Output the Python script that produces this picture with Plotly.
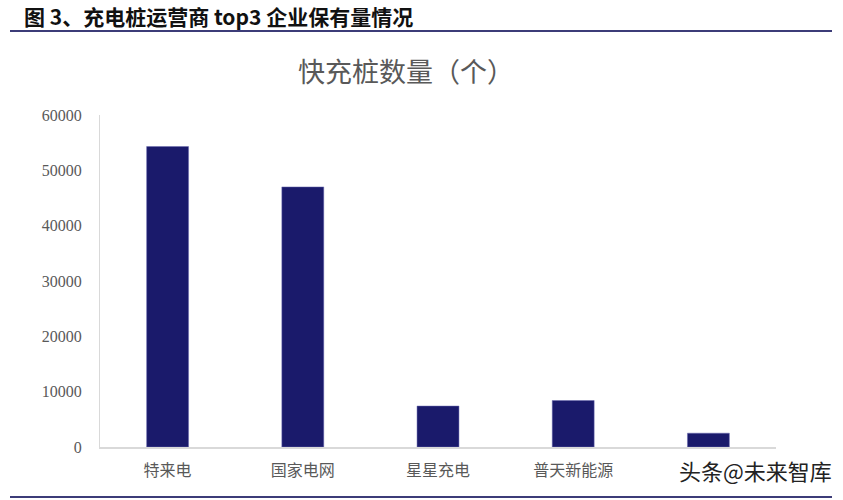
import plotly.graph_objects as go

categories = ["特来电", "国家电网", "星星充电", "普天新能源", "上汽安悦"]
values = [54300, 47000, 7400, 8400, 2500]
y_ticks = [0, 10000, 20000, 30000, 40000, 50000, 60000]
# the fifth category label is hidden under the watermark in the reference
x_tick_text = ["特来电", "国家电网", "星星充电", "普天新能源", ""]

fig = go.Figure()
fig.add_trace(go.Bar(
    x=categories, y=values,
    marker=dict(color="#1a1a6b", line=dict(color="#6a6ab0", width=0.5)),
    width=0.31,
))

cjk = "Noto Sans CJK SC"
PW, PH = 676, 332


def px(x):
    return (x - 100) / PW


def py(y):
    return (447 - y) / PH


fig.update_layout(
    width=843, height=500,
    margin=dict(l=100, r=67, t=115, b=53, autoexpand=False),
    paper_bgcolor="white", plot_bgcolor="white",
    showlegend=False,
    font=dict(family=cjk, color="#595959"),
    xaxis=dict(
        showline=True, linecolor="#d9d9d9", linewidth=1.5,
        showgrid=False, ticks="", tickfont=dict(size=16, color="#595959", family=cjk),
        range=[-0.5, 4.5], automargin=False,
        tickvals=categories, ticktext=x_tick_text,
        ticklabelstandoff=8,
    ),
    yaxis=dict(
        range=[0, 60000], tickvals=y_ticks, ticktext=[str(v) for v in y_ticks],
        showline=True, linecolor="#d9d9d9", linewidth=1,
        showgrid=False, zeroline=False, ticks="", automargin=False,
        tickfont=dict(size=16, color="#595959", family="Liberation Serif"),
        ticklabelstandoff=14,
    ),
    shapes=[
        dict(type="line", xref="paper", yref="paper",
             x0=px(10), x1=px(832), y0=py(31), y1=py(31),
             line=dict(color="#3c3c78", width=2)),
        dict(type="line", xref="paper", yref="paper",
             x0=px(10), x1=px(832), y0=py(497), y1=py(497),
             line=dict(color="#3c3c78", width=2)),
    ],
    annotations=[
        dict(text="<b>图 3、充电桩运营商 top3 企业保有量情况</b>", xref="paper", yref="paper",
             x=px(22), y=py(16), xanchor="left", yanchor="middle",
             showarrow=False, font=dict(size=21, color="#111111", family=cjk)),
        dict(text="快充桩数量（个）", xref="paper", yref="paper",
             x=px(406), y=py(71), xanchor="center", yanchor="middle",
             showarrow=False, font=dict(size=27, color="#595959", family=cjk)),
        dict(text="头条@未来智库", xref="paper", yref="paper",
             x=px(755), y=py(470), xanchor="center", yanchor="middle",
             showarrow=False,
             font=dict(size=22, color="#222222", family=cjk)),
    ],
)

fig.write_html(
    "out.html",
    config={"displayModeBar": False},
    post_script="document.body.style.margin='0';document.body.style.overflow='hidden';",
)
